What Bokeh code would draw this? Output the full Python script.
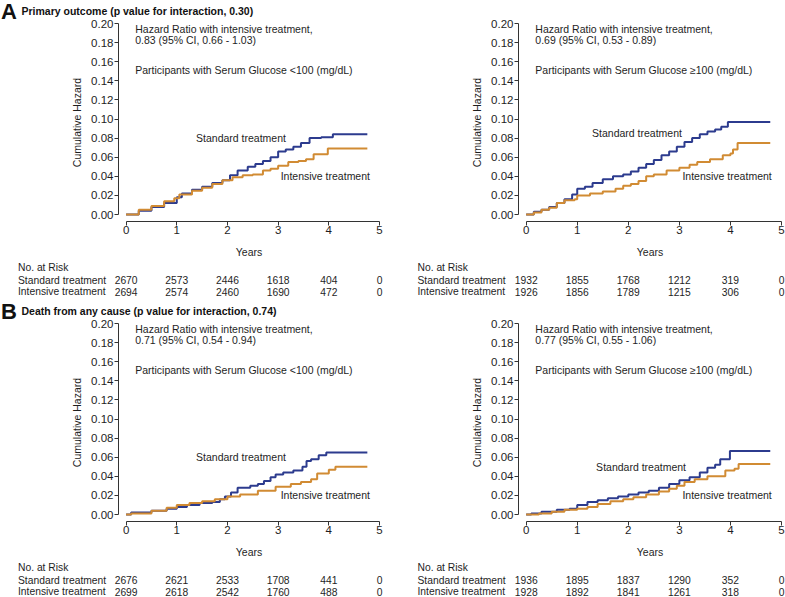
from bokeh.plotting import figure
from bokeh.models import Range1d, Label, FixedTicker, NumeralTickFormatter, ColumnDataSource
from bokeh.layouts import column, row
from bokeh.embed import file_html
from bokeh.resources import INLINE
from bokeh.core.properties import value

# ---------------- data ----------------
years_ticks = [0, 1, 2, 3, 4, 5]
hazard_ticks = [0.0, 0.02, 0.04, 0.06, 0.08, 0.10, 0.12, 0.14, 0.16, 0.18, 0.20]

# Panel A, glucose <100
a_low_std_t = [0, 0.25, 0.5, 0.75, 1.0, 1.1, 1.3, 1.5, 1.7, 1.9, 2.05, 2.2, 2.4, 2.55, 2.7, 2.85, 3.0, 3.15, 3.3, 3.45, 3.62, 3.85, 4.08, 4.76]
a_low_std_v = [0, 0.004, 0.008, 0.012, 0.018, 0.022, 0.026, 0.029, 0.033, 0.036, 0.041, 0.046, 0.050, 0.053, 0.056, 0.060, 0.066, 0.068, 0.071, 0.075, 0.080, 0.081, 0.084, 0.084]
a_low_int_t = [0, 0.25, 0.5, 0.75, 0.95, 1.05, 1.3, 1.5, 1.7, 1.9, 2.1, 2.3, 2.5, 2.7, 2.85, 3.0, 3.2, 3.4, 3.55, 3.7, 3.98, 4.76]
a_low_int_v = [0, 0.005, 0.009, 0.014, 0.017, 0.021, 0.025, 0.028, 0.032, 0.036, 0.039, 0.041, 0.042, 0.046, 0.048, 0.051, 0.055, 0.056, 0.058, 0.063, 0.069, 0.069]
a_low_risk_std = [2670, 2573, 2446, 1618, 404, 0]
a_low_risk_int = [2694, 2574, 2460, 1690, 472, 0]

# Panel A, glucose >=100
a_high_std_t = [0, 0.15, 0.3, 0.45, 0.6, 0.75, 0.9, 1.0, 1.15, 1.3, 1.5, 1.7, 1.9, 2.05, 2.2, 2.35, 2.5, 2.65, 2.8, 2.95, 3.1, 3.25, 3.4, 3.55, 3.7, 3.82, 3.95, 4.78]
a_high_std_v = [0, 0.003, 0.005, 0.008, 0.012, 0.016, 0.021, 0.027, 0.029, 0.033, 0.037, 0.040, 0.042, 0.045, 0.049, 0.053, 0.057, 0.062, 0.066, 0.071, 0.076, 0.080, 0.084, 0.087, 0.089, 0.092, 0.097, 0.097]
a_high_int_t = [0, 0.15, 0.3, 0.45, 0.6, 0.75, 0.95, 1.0, 1.25, 1.5, 1.75, 1.9, 2.05, 2.2, 2.35, 2.5, 2.75, 3.0, 3.2, 3.35, 3.6, 3.85, 4.0, 4.05, 4.14, 4.78]
a_high_int_v = [0, 0.002, 0.005, 0.007, 0.012, 0.015, 0.016, 0.020, 0.022, 0.024, 0.027, 0.030, 0.032, 0.035, 0.040, 0.042, 0.046, 0.049, 0.052, 0.055, 0.058, 0.062, 0.064, 0.068, 0.075, 0.075]
a_high_risk_std = [1932, 1855, 1768, 1212, 319, 0]
a_high_risk_int = [1926, 1856, 1789, 1215, 306, 0]

# Panel B, glucose <100
b_low_std_t = [0, 0.1, 0.5, 0.8, 1.0, 1.2, 1.45, 1.7, 1.85, 1.95, 2.07, 2.2, 2.45, 2.6, 2.72, 2.85, 2.95, 3.1, 3.3, 3.48, 3.56, 3.65, 3.8, 3.95, 4.76]
b_low_std_v = [0, 0.002, 0.004, 0.006, 0.008, 0.010, 0.012, 0.013, 0.016, 0.019, 0.023, 0.028, 0.030, 0.032, 0.035, 0.039, 0.042, 0.044, 0.046, 0.050, 0.056, 0.058, 0.062, 0.065, 0.065]
b_low_int_t = [0, 0.1, 0.5, 0.8, 1.0, 1.25, 1.5, 1.75, 2.0, 2.25, 2.6, 2.95, 3.25, 3.45, 3.65, 3.77, 4.0, 4.13, 4.76]
b_low_int_v = [0, 0.001, 0.004, 0.007, 0.010, 0.012, 0.014, 0.016, 0.019, 0.021, 0.025, 0.029, 0.032, 0.034, 0.037, 0.043, 0.047, 0.050, 0.050]
b_low_risk_std = [2676, 2621, 2533, 1708, 441, 0]
b_low_risk_int = [2699, 2618, 2542, 1760, 488, 0]

# Panel B, glucose >=100
b_high_std_t = [0, 0.1, 0.3, 0.6, 0.85, 1.0, 1.2, 1.4, 1.6, 1.8, 2.0, 2.2, 2.4, 2.6, 2.8, 3.0, 3.2, 3.4, 3.55, 3.7, 3.8, 3.99, 4.78]
b_high_std_v = [0, 0.001, 0.003, 0.005, 0.006, 0.010, 0.013, 0.015, 0.017, 0.019, 0.021, 0.023, 0.025, 0.028, 0.032, 0.036, 0.039, 0.044, 0.049, 0.052, 0.058, 0.0665, 0.0665]
b_high_int_t = [0, 0.25, 0.5, 0.75, 1.0, 1.2, 1.4, 1.65, 1.9, 2.1, 2.35, 2.6, 2.8, 2.95, 3.1, 3.3, 3.55, 3.9, 4.08, 4.16, 4.78]
b_high_int_v = [0, 0.001, 0.003, 0.005, 0.006, 0.008, 0.011, 0.014, 0.016, 0.018, 0.021, 0.024, 0.027, 0.030, 0.034, 0.037, 0.040, 0.046, 0.048, 0.053, 0.053]
b_high_risk_std = [1936, 1895, 1837, 1290, 352, 0]
b_high_risk_int = [1928, 1892, 1841, 1261, 318, 0]

# ---------------- style ----------------
FONT = "Liberation Sans"
TXT = "#1e1e1e"
BLUE = "#2c3b8e"
ORANGE = "#d18b33"
AXC = "#333333"

X0 = -0.15          # x range start (axis offset)
Y0 = -0.0073        # y range start (axis offset)
HEAD_H = 19
PLOT_H = 241
MB_TOP = 4
MB_BOTTOM = 38
LETTER_W = 17


def blank_fig(w, h, xr, yr):
    f = figure(width=w, height=h, output_backend="svg", toolbar_location=None,
               x_range=xr, y_range=yr, x_axis_type=None, y_axis_type=None,
               min_border_left=0, min_border_right=0, min_border_top=0, min_border_bottom=0,
               frame_align=False)
    f.outline_line_color = None
    f.grid.visible = False
    return f


def make_panel(left, std_t, std_v, int_t, int_v, risk_std, risk_int,
               hr_line1, hr_line2, group_text, std_lab, int_lab,
               letter=None, title=None, table_h=40):
    off = LETTER_W if letter else 0
    W = (392 if left else 393) - off
    mbl = (118 if left else 126) - off
    mbr = 13 if left else 4
    frame_w = W - mbl - mbr
    k = frame_w / (5.0 - X0)

    items = []
    # head strip (title)
    head = blank_fig(W, HEAD_H, Range1d(0, W), Range1d(0, HEAD_H))
    if title:
        head.add_layout(Label(x=21 - off, y=HEAD_H - 10.3, x_units="screen", y_units="screen", text=title,
                              text_font=FONT, text_font_size="10.5px", text_font_style="bold",
                              text_color="#111111", text_baseline="middle"))
    items.append(head)

    p = figure(width=W, height=PLOT_H, output_backend="svg", toolbar_location=None,
               x_range=Range1d(X0, 5.0), y_range=Range1d(Y0, 0.2),
               min_border_left=mbl, min_border_right=mbr,
               min_border_top=MB_TOP, min_border_bottom=MB_BOTTOM, frame_align=False)
    p.outline_line_color = None
    p.grid.visible = False

    for ax in (p.xaxis[0], p.yaxis[0]):
        ax.axis_line_color = AXC
        ax.major_tick_line_color = AXC
        ax.minor_tick_line_color = None
        ax.major_tick_out = 4
        ax.major_tick_in = 0
        ax.major_label_text_font = FONT
        ax.major_label_text_font_size = "11.5px"
        ax.major_label_text_color = TXT
        ax.axis_label_text_font = FONT
        ax.axis_label_text_font_size = "10.5px"
        ax.axis_label_text_font_style = "normal"
        ax.axis_label_text_color = TXT

    p.xaxis.ticker = FixedTicker(ticks=years_ticks)
    p.xaxis.bounds = (0, 5)
    p.xaxis.major_label_standoff = 0
    p.xaxis.axis_label = "Years"
    p.xaxis.axis_label_standoff = 9

    p.yaxis.ticker = FixedTicker(ticks=hazard_ticks)
    p.yaxis.bounds = (0, 0.2)
    p.yaxis.formatter = NumeralTickFormatter(format="0.00")
    p.yaxis.major_label_standoff = 1
    p.yaxis.axis_label = "Cumulative Hazard"
    p.yaxis.axis_label_standoff = 5

    p.step(std_t, std_v, mode="after", line_color=BLUE, line_width=2)
    p.step(int_t, int_v, mode="after", line_color=ORANGE, line_width=2)

    def lab(f, x, y, text, **kw):
        d = dict(text_font=FONT, text_font_size="10.5px", text_color=TXT,
                 text_baseline="middle", text_align="left")
        d.update(kw)
        f.add_layout(Label(x=x, y=y, text=text, **d))

    lab(p, 0.18, 0.1945, hr_line1)
    lab(p, 0.18, 0.183, hr_line2)
    lab(p, 0.18, 0.151, group_text)
    lab(p, std_lab[0], std_lab[1], "Standard treatment")
    lab(p, int_lab[0], int_lab[1], "Intensive treatment")
    items.append(p)

    # risk table, sharing the plot's horizontal scale
    tx = Range1d(X0 - mbl / k, 5.0 + mbr / k)
    tab = blank_fig(W, table_h, tx, Range1d(0, table_h))
    row_x = max(0.5, (15 if left else 25) - off)
    lab(tab, row_x, table_h - 6.5, "No. at Risk", x_units="screen", y_units="screen", text_font_size="10.3px")
    lab(tab, row_x, table_h - 19.5, "Standard treatment", x_units="screen", y_units="screen", text_font_size="10.3px")
    lab(tab, row_x, table_h - 31, "Intensive treatment", x_units="screen", y_units="screen", text_font_size="10.3px")
    src = ColumnDataSource(dict(
        x=years_ticks + years_ticks,
        y=[table_h - 19.5] * len(years_ticks) + [table_h - 31] * len(years_ticks),
        t=[str(n) for n in risk_std] + [str(n) for n in risk_int]))
    tab.text(x="x", y="y", text="t", source=src, text_font=value(FONT), text_font_size="10.3px",
             text_color=TXT, text_align="center", text_baseline="middle")
    items.append(tab)
    col = column(*items, spacing=0)

    if letter:
        total_h = HEAD_H + PLOT_H + table_h
        lf = blank_fig(LETTER_W, total_h, Range1d(0, LETTER_W), Range1d(0, total_h))
        lf.add_layout(Label(x=0.5, y=total_h - 11.3, x_units="screen", y_units="screen", text=letter,
                            text_font=FONT, text_font_size="22px", text_font_style="bold",
                            text_color="#111111", text_baseline="middle"))
        return row(lf, col, spacing=0)
    return col


p1 = make_panel(True, a_low_std_t, a_low_std_v, a_low_int_t, a_low_int_v,
                a_low_risk_std, a_low_risk_int,
                "Hazard Ratio with intensive treatment,", "0.83 (95% CI, 0.66 - 1.03)",
                "Participants with Serum Glucose <100 (mg/dL)",
                (1.38, 0.080), (3.05, 0.040),
                letter="A", title="Primary outcome (p value for interaction, 0.30)", table_h=40)
p2 = make_panel(False, a_high_std_t, a_high_std_v, a_high_int_t, a_high_int_v,
                a_high_risk_std, a_high_risk_int,
                "Hazard Ratio with intensive treatment,", "0.69 (95% CI, 0.53 - 0.89)",
                "Participants with Serum Glucose \u2265100 (mg/dL)",
                (1.29, 0.085), (3.06, 0.040), table_h=40)
p3 = make_panel(True, b_low_std_t, b_low_std_v, b_low_int_t, b_low_int_v,
                b_low_risk_std, b_low_risk_int,
                "Hazard Ratio with intensive treatment,", "0.71 (95% CI, 0.54 - 0.94)",
                "Participants with Serum Glucose <100 (mg/dL)",
                (1.38, 0.060), (3.05, 0.020),
                letter="B", title="Death from any cause (p value for interaction, 0.74)", table_h=37)
p4 = make_panel(False, b_high_std_t, b_high_std_v, b_high_int_t, b_high_int_v,
                b_high_risk_std, b_high_risk_int,
                "Hazard Ratio with intensive treatment,", "0.77 (95% CI, 0.55 - 1.06)",
                "Participants with Serum Glucose \u2265100 (mg/dL)",
                (1.37, 0.050), (3.06, 0.020), table_h=37)

layout = column(row(p1, p2, spacing=0), row(p3, p4, spacing=0), spacing=0)
open("out.html", "w").write(file_html(layout, INLINE))
